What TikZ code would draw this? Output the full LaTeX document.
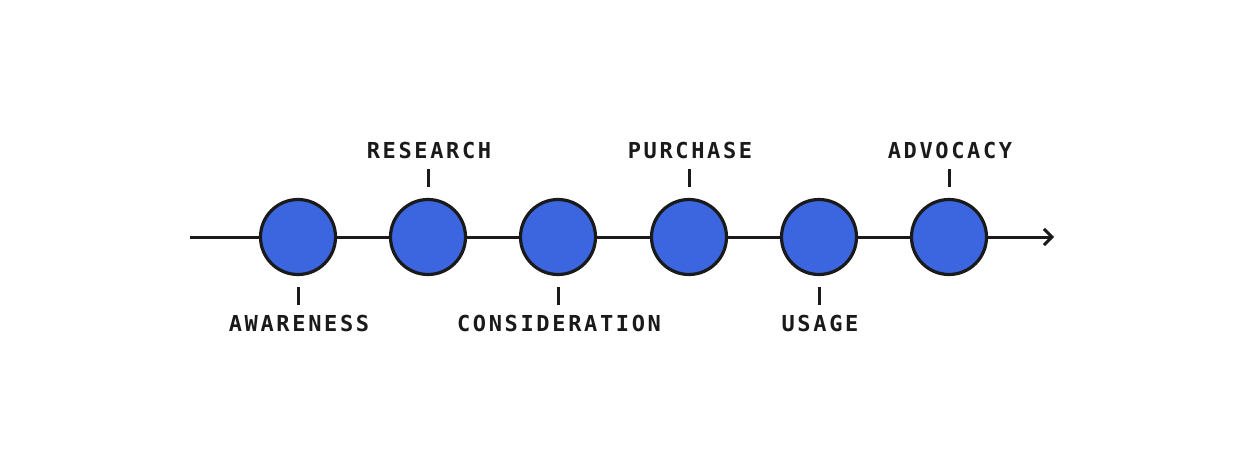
\documentclass[tikz,border=0pt]{standalone}
\usepackage{fontspec}
\newfontfamily\lblfont[LetterSpace=12]{DejaVu Sans Mono Bold}
\usetikzlibrary{arrows.meta}
\definecolor{ink}{HTML}{1A1A1A}
\definecolor{dotblue}{HTML}{3B66E0}
\begin{document}
\begin{tikzpicture}[x=1pt,y=-1pt,
  stage/.style={circle,draw=ink,line width=3.2pt,fill=dotblue,minimum size=75pt,inner sep=0pt},
  tick/.style={draw=ink,line width=3pt},
  lbl/.style={font=\lblfont\fontsize{22}{22}\selectfont,text=ink,inner sep=0pt}]
\useasboundingbox (0,0) rectangle (1242,475);
\coordinate (s) at (190,237);
\coordinate (e) at (1054,237);
\draw[ink,line width=3pt,-{Straight Barb[length=8pt,width=16pt,line width=3pt]}] (s) -- (e);
\foreach \n/\x in {1/298,2/428,3/558,4/689,5/819,6/949}{
  \node[stage] (c\n) at (\x,237) {};
}
\foreach \n in {2,4,6}{\draw[tick] ([yshift=11pt]c\n.north) -- ++(0,-18);}
\foreach \n in {1,3,5}{\draw[tick] ([yshift=-11pt]c\n.south) -- ++(0,18);}
\node[lbl] (l2) at (429,150) {RESEARCH};
\node[lbl] (l4) at (690,150) {PURCHASE};
\node[lbl] (l6) at (950,150) {ADVOCACY};
\node[lbl] (l1) at (299,323) {AWARENESS};
\node[lbl] (l3) at (559,323) {CONSIDERATION};
\node[lbl] (l5) at (820,323) {USAGE};
\end{tikzpicture}
\end{document}
